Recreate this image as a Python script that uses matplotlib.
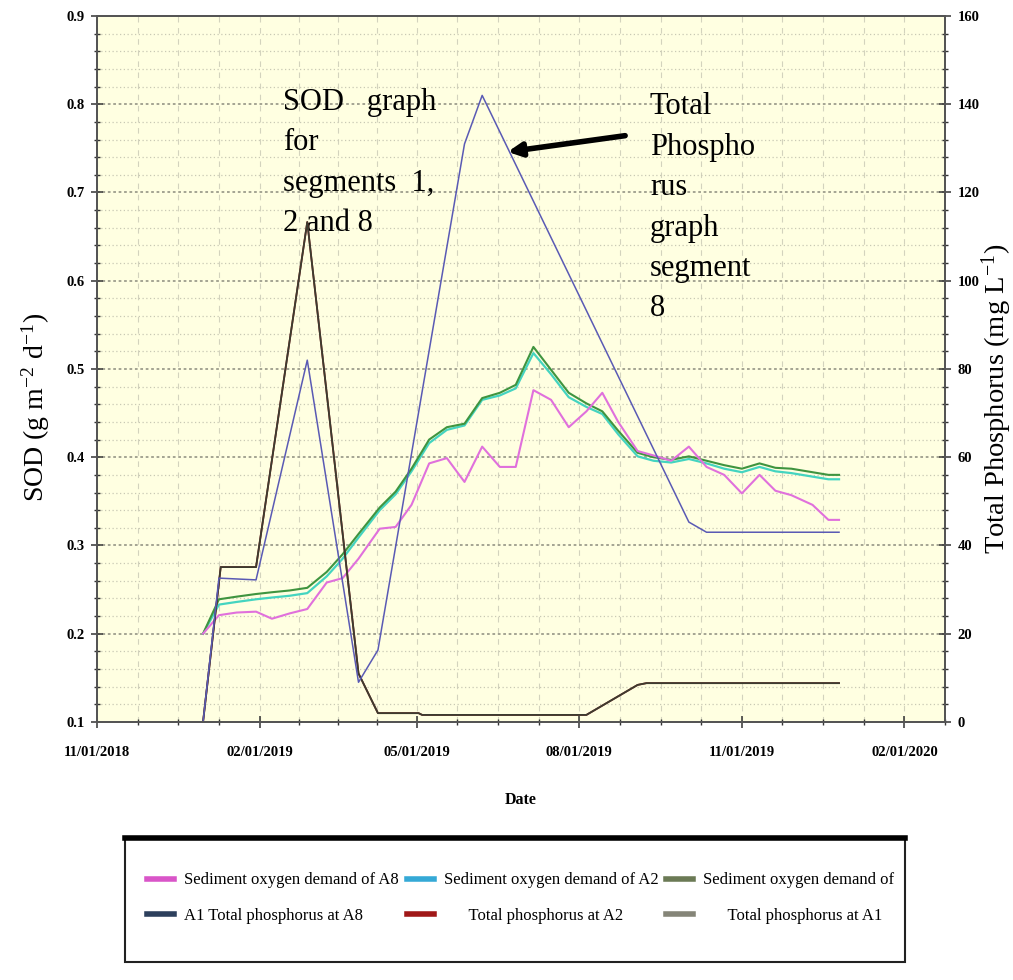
import matplotlib
matplotlib.use('Agg')
import matplotlib.pyplot as plt
import matplotlib.dates as mdates
from matplotlib.lines import Line2D
from matplotlib.patches import Rectangle
import numpy as np
import pandas as pd

plt.rcParams['font.family'] = ['Liberation Serif', 'DejaVu Serif']
plt.rcParams['mathtext.fontset'] = 'stix'

# SOD series (left axis, g m-2 d-1)
sod_dates = pd.to_datetime([
    '2018-12-31', '2019-01-09', '2019-01-19', '2019-01-30', '2019-02-08', '2019-02-18',
    '2019-02-28', '2019-03-11', '2019-03-20', '2019-03-29', '2019-04-10', '2019-04-19',
    '2019-04-28', '2019-05-08', '2019-05-18', '2019-05-28', '2019-06-07', '2019-06-17',
    '2019-06-26', '2019-07-06', '2019-07-16', '2019-07-26', '2019-08-05', '2019-08-14',
    '2019-08-23', '2019-09-03', '2019-09-12', '2019-09-22', '2019-10-02', '2019-10-12',
    '2019-10-22', '2019-11-01', '2019-11-11', '2019-11-20', '2019-11-29', '2019-12-11',
    '2019-12-20', '2019-12-26'])
sod_a8 = [0.200, 0.221, 0.224, 0.225, 0.217, 0.223, 0.228, 0.258, 0.263, 0.285, 0.319, 0.321,
          0.346, 0.393, 0.399, 0.372, 0.412, 0.389, 0.389, 0.476, 0.465, 0.434, 0.452, 0.473,
          0.440, 0.407, 0.402, 0.396, 0.412, 0.389, 0.380, 0.359, 0.380, 0.362, 0.357, 0.346,
          0.329, 0.329]
sod_a2 = [0.200, 0.233, 0.236, 0.239, 0.241, 0.243, 0.246, 0.265, 0.285, 0.309, 0.340, 0.358,
          0.384, 0.416, 0.431, 0.436, 0.465, 0.470, 0.478, 0.518, 0.494, 0.468, 0.457, 0.449,
          0.426, 0.401, 0.396, 0.394, 0.398, 0.393, 0.387, 0.383, 0.389, 0.384, 0.382, 0.378,
          0.375, 0.375]
sod_a1 = [0.200, 0.239, 0.242, 0.245, 0.247, 0.249, 0.252, 0.270, 0.290, 0.313, 0.343, 0.361,
          0.387, 0.420, 0.434, 0.438, 0.467, 0.473, 0.482, 0.525, 0.499, 0.473, 0.461, 0.452,
          0.430, 0.405, 0.400, 0.397, 0.401, 0.396, 0.391, 0.387, 0.393, 0.388, 0.387, 0.383,
          0.380, 0.380]

# Total phosphorus series (right axis, mg L-1)
tp_a8_dates = pd.to_datetime(['2018-12-31', '2019-01-09', '2019-01-30', '2019-02-28', '2019-03-29',
                              '2019-04-09', '2019-05-28', '2019-06-07', '2019-10-02', '2019-10-12',
                              '2019-12-26'])
tp_a8 = [0, 32.6, 32.2, 82, 9, 16.3, 131, 142, 45.3, 43, 43]
tp_a1_dates = pd.to_datetime(['2018-12-31', '2019-01-10', '2019-01-30', '2019-02-28', '2019-03-29',
                              '2019-04-09', '2019-05-02', '2019-05-04', '2019-08-05', '2019-09-03',
                              '2019-09-08', '2019-12-26'])
tp_a1 = [0, 35.1, 35.1, 113.3, 11, 2.0, 2.0, 1.6, 1.6, 8.4, 8.8, 8.8]
tp_a2 = [0, 35.1, 35.1, 113.3, 11, 2.0, 2.0, 1.6, 1.6, 8.4, 8.8, 8.8]

tick_dates = pd.to_datetime(['2018-11-01', '2019-02-01', '2019-05-01', '2019-08-01',
                             '2019-11-01', '2020-02-01'])
tick_labels = ['11/01/2018', '02/01/2019', '05/01/2019', '08/01/2019', '11/01/2019', '02/01/2020']

legend_labels = ['Sediment oxygen demand of A8', 'A1 Total phosphorus at A8',
                 'Sediment oxygen demand of A2', '      Total phosphorus at A2',
                 'Sediment oxygen demand of', '      Total phosphorus at A1']
legend_colors = ['#d955c8', '#2c3f5c', '#35a9d6', '#a01818', '#6b7a55', '#858578']

fig = plt.figure(figsize=(10.13, 9.8), dpi=100)
ax = fig.add_axes([0.0958, 0.2633, 0.8371, 0.7204])
ax.set_facecolor('#ffffe1')
ax2 = ax.twinx()

ax.plot(sod_dates, sod_a2, color='#44d4c0', lw=1.6, zorder=3)
ax.plot(sod_dates, sod_a1, color='#3f943f', lw=1.5, zorder=3)
ax.plot(sod_dates, sod_a8, color='#e070dc', lw=1.5, zorder=3)

ax2.plot(tp_a1_dates, tp_a2, color='#8b1a1a', lw=1.3)
ax2.plot(tp_a1_dates, tp_a1, color='#3c3c30', lw=1.3)
ax2.plot(tp_a8_dates, tp_a8, color='#5a5ab4', lw=1.1)

ax.set_xlim(pd.Timestamp('2018-11-01'), pd.Timestamp('2020-02-24'))
ax.set_ylim(0.1, 0.9)
ax2.set_ylim(0, 160)

# x ticks: labelled quarters, three minor ticks between
tick_nums = mdates.date2num(tick_dates)
minor = []
for a, b in zip(tick_nums[:-1], tick_nums[1:]):
    minor += list(np.linspace(a, b, 5)[1:-1])
minor.append(tick_nums[-1] + (tick_nums[1] - tick_nums[0]) / 4)
ax.set_xticks(tick_nums)
ax.set_xticklabels(tick_labels)
ax.set_xticks(minor, minor=True)

ax.set_yticks(np.arange(0.1, 0.91, 0.1))
ax.set_yticklabels([f'{v:.1f}' for v in np.arange(0.1, 0.91, 0.1)])
ax.set_yticks(np.arange(0.1, 0.901, 0.02), minor=True)
ax2.set_yticks(np.arange(0, 161, 20))
ax2.set_yticks(np.arange(0, 161, 4), minor=True)

for a in (ax, ax2):
    a.tick_params(which='major', direction='inout', length=8, width=1.1, color='#333333',
                  labelsize=10.5, pad=5)
    a.tick_params(which='minor', direction='inout', length=4, width=1.0, color='#333333')
    for s in a.spines.values():
        s.set_color('#555555')
        s.set_linewidth(1.4)
ax.tick_params(axis='x', which='major', pad=13)
for lbl in ax.get_xticklabels() + ax.get_yticklabels() + ax2.get_yticklabels():
    lbl.set_fontweight('bold')

ax.set_axisbelow(True)
ax.grid(axis='y', which='major', color='#9d9d8c', ls=(0, (1.5, 1.5)), lw=1.3)
ax.grid(axis='y', which='minor', color='#c9c9b4', ls=(0, (1, 2)), lw=0.9)
ax.grid(axis='x', which='both', color='#d3d3bd', ls=(0, (5, 5)), lw=0.8)

ax.set_xlabel('Date', fontweight='bold', fontsize=11.5, labelpad=24)

fig.text(0.035, 0.584, r'SOD (g m$^{\mathregular{-2}}$ d$^{\mathregular{-1}}$)', rotation=90,
         fontsize=20, ha='center', va='center')
fig.text(0.984, 0.593, r'Total Phosphorus (mg L$^{\mathregular{-1}}$)', rotation=90,
         fontsize=20.5, ha='center', va='center')

ax.text(0.219, 0.898, 'SOD   graph\nfor\nsegments  1,\n2 and 8', transform=ax.transAxes,
        fontsize=22, va='top', ha='left', linespacing=1.52)
ax.text(0.652, 0.892, 'Total\nPhospho\nrus\ngraph\nsegment\n8', transform=ax.transAxes,
        fontsize=22, va='top', ha='left', linespacing=1.52)
ax.annotate('', xy=(0.481, 0.807), xytext=(0.626, 0.831), xycoords='axes fraction',
            arrowprops=dict(arrowstyle='-|>', lw=4, color='black', mutation_scale=20))

handles = [Line2D([], [], color=c, lw=4) for c in legend_colors]
fig.legend(handles, legend_labels, ncol=3, loc='center', bbox_to_anchor=(0.514, 0.0837),
           frameon=False, fontsize=12, handlelength=1.6, handletextpad=0.6,
           columnspacing=0.5, labelspacing=1.15)
fig.add_artist(Rectangle((125 / 1013, 18 / 980), 780 / 1013, 124 / 980,
                         transform=fig.transFigure, fill=False, ec='#222222', lw=1.5))
fig.add_artist(Line2D([125 / 1013, 905 / 1013], [142 / 980, 142 / 980],
                      transform=fig.transFigure, color='black', lw=4))

fig.savefig('out.png', dpi=100)
